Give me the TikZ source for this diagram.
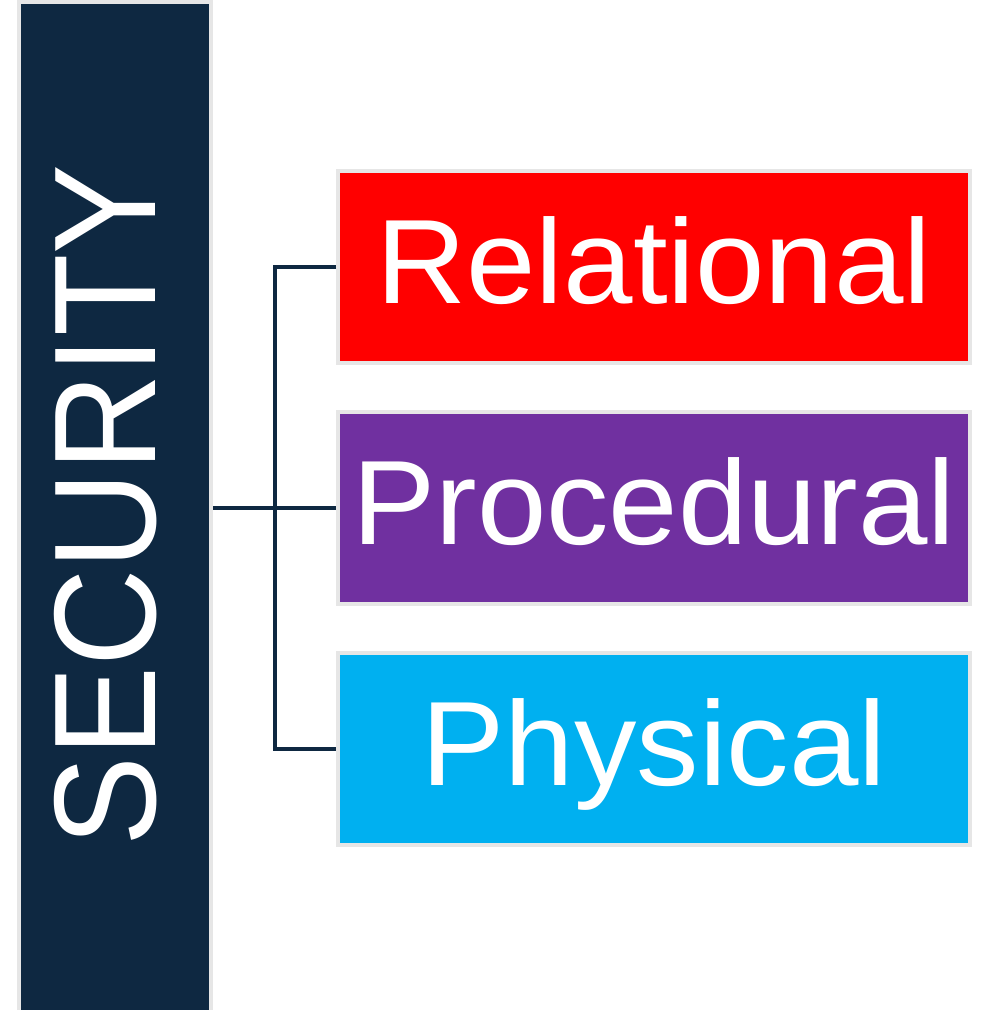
\documentclass[tikz,border=0pt]{standalone}
\usepackage{fontspec}
\newfontfamily\barfont[FakeStretch=0.93]{Liberation Sans}
\newfontfamily\boxfont[FakeStretch=1.04]{Liberation Sans}
\definecolor{navy}{HTML}{0E2841}
\definecolor{rim}{HTML}{E6E6E6}
\definecolor{relred}{HTML}{FF0000}
\definecolor{propurple}{HTML}{7030A0}
\definecolor{phycyan}{HTML}{00B0F0}
\begin{document}
\begin{tikzpicture}[x=1pt,y=-1pt]
\useasboundingbox (0,0) rectangle (982,1010);
\clip (0,0) rectangle (982,1010);
\tikzset{box/.style={draw=rim, line width=4pt, minimum width=632pt, minimum height=192pt,
  inner sep=0pt, text=white, font=\boxfont\fontsize{120}{120}\selectfont,
  text height=86pt, text depth=14pt}}
\node[draw=rim, fill=navy, line width=4pt, minimum width=192pt, minimum height=1013pt, inner sep=0pt] (sec) at (115,508){};
\node[rotate=90, text=white, inner sep=0pt, font=\barfont\fontsize{145}{145}\selectfont] (sectext) at (106,505.5){SECURITY};
\node[box, fill=relred] (rel) at (654,267){Relational};
\node[box, fill=propurple] (pro) at (654,508){Procedural};
\node[box, fill=phycyan] (phy) at (654,749){Physical};
\coordinate (fork) at (275,508);
\draw[navy, line width=4pt](sec.east) -- (pro.west);
\draw[navy, line width=4pt](rel.west) -| (fork) |- (phy.west);
\end{tikzpicture}
\end{document}
